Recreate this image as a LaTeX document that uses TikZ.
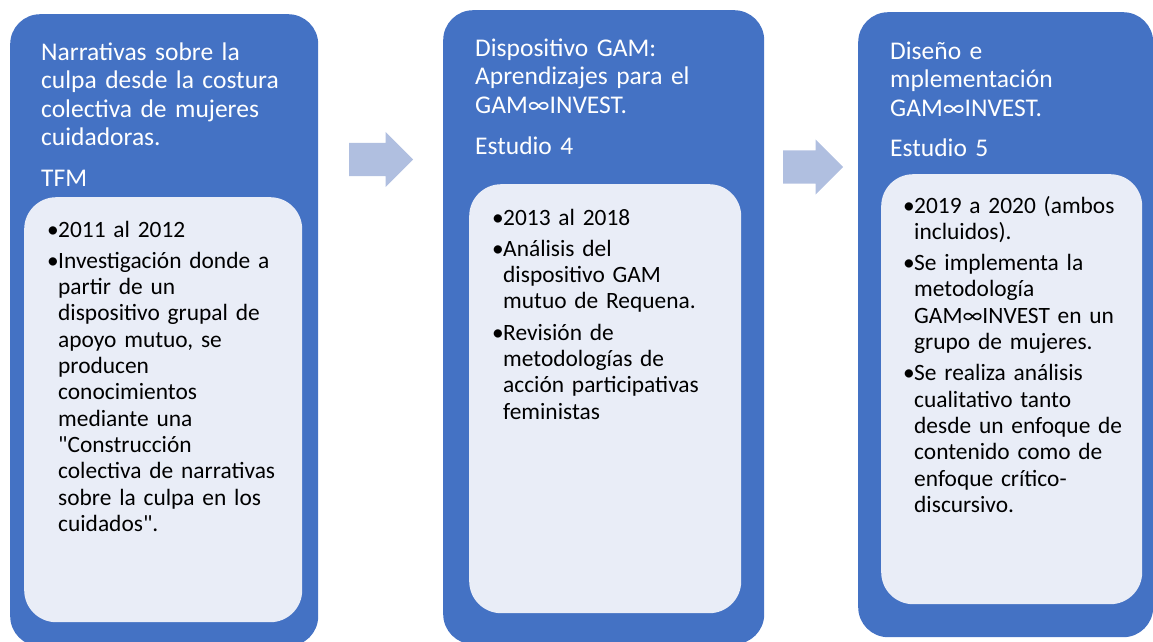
\documentclass[tikz,border=0pt]{standalone}
\usepackage{fontspec}
\setmainfont{Carlito}
\newfontfamily\straight{Carlito}
\usetikzlibrary{shapes.arrows, positioning}
\definecolor{panelblue}{HTML}{4472C4}
\definecolor{innerfill}{HTML}{E9EDF7}
\definecolor{arrowfill}{HTML}{B0BFE0}
\newcommand{\bul}[1]{\hangindent=11pt\hangafter=1\noindent\makebox[11pt][l]{\textbullet}#1\par\vspace{5pt}}
\newcommand{\dq}{{\straight"}}
\tikzstyle{panel} = [rectangle, rounded corners=30pt,
inner sep=0pt,
anchor=north west,
fill=panelblue]
\tikzstyle{inner} = [rectangle, rounded corners=32pt,
inner sep=0pt,
anchor=north west,
fill=innerfill]
\tikzstyle{title} = [anchor=base west,
inner sep=0pt,
text width=300pt,
align=left,
text=white,
font=\fontsize{25.5}{28.6}\selectfont]
\tikzstyle{body} = [anchor=base west,
inner sep=0pt,
text width=300pt,
align=left,
text=black,
font=\fontsize{23.4}{26.3}\selectfont]
\tikzstyle{flecha} = [single arrow,
anchor=tail,
inner xsep=0pt,
inner ysep=16.5pt,
text height=0pt,
text depth=0pt,
single arrow head extend=11pt,
fill=arrowfill]

\begin{document}
\begin{tikzpicture}[x=1pt, y=-1pt]
			\useasboundingbox (0,0) rectangle (1153,641);
			% TFM
			\node (panel1) [panel, minimum width=308pt, minimum height=632pt] at (10,14) {};
			\node (inner1) [inner, minimum width=278pt, minimum height=425pt] at (24,197) {};
			\node (title1) [title] at (41,60) {Narrativas sobre la\\ culpa desde la costura\\ colectiva de mujeres\\ cuidadoras.\\[12pt] TFM};
			\node (body1) [body] at (47,237) {\bul{2011 al 2012}\bul{Investigación donde a\newline partir de un\newline dispositivo grupal de\newline apoyo mutuo, se\newline producen\newline conocimientos\newline mediante una\newline \dq Construcción\newline colectiva de narrativas\newline sobre la culpa en los\newline cuidados\dq.}};
			% Estudio 4
			\node (panel2) [panel, minimum width=321pt, minimum height=634pt] at (443,10) {};
			\node (inner2) [inner, minimum width=272pt, minimum height=429pt] at (469,184) {};
			\node (title2) [title] at (475,56) {Dispositivo GAM:\\ Aprendizajes para el\\ GAM∞INVEST.\\[12.5pt] Estudio 4};
			\node (body2) [body] at (492,225) {\bul{2013 al 2018}\bul{Análisis del\newline dispositivo GAM\newline mutuo de Requena.}\bul{Revisión de\newline metodologías de\newline acción participativas\newline feministas}};
			% Estudio 5
			\node (panel3) [panel, minimum width=295pt, minimum height=625pt] at (858,12) {};
			\node (inner3) [inner, minimum width=261pt, minimum height=430pt] at (881,174) {};
			\node (title3) [title] at (890,59) {Diseño e\\ mplementación\\ GAM∞INVEST.\\[12pt] Estudio 5};
			\node (body3) [body] at (903,213) {\bul{2019 a 2020 (ambos\newline incluidos).}\bul{Se implementa la\newline metodología\newline GAM∞INVEST en un\newline grupo de mujeres.}\bul{Se realiza análisis\newline cualitativo tanto\newline desde un enfoque de\newline contenido como de\newline enfoque crítico-\newline discursivo.}};

			\node (arrow1) [flecha, minimum height=64pt] at (349,159.5) {};
			\node (arrow2) [flecha, minimum height=60pt] at (783,167) {};
		\end{tikzpicture}
\end{document}
